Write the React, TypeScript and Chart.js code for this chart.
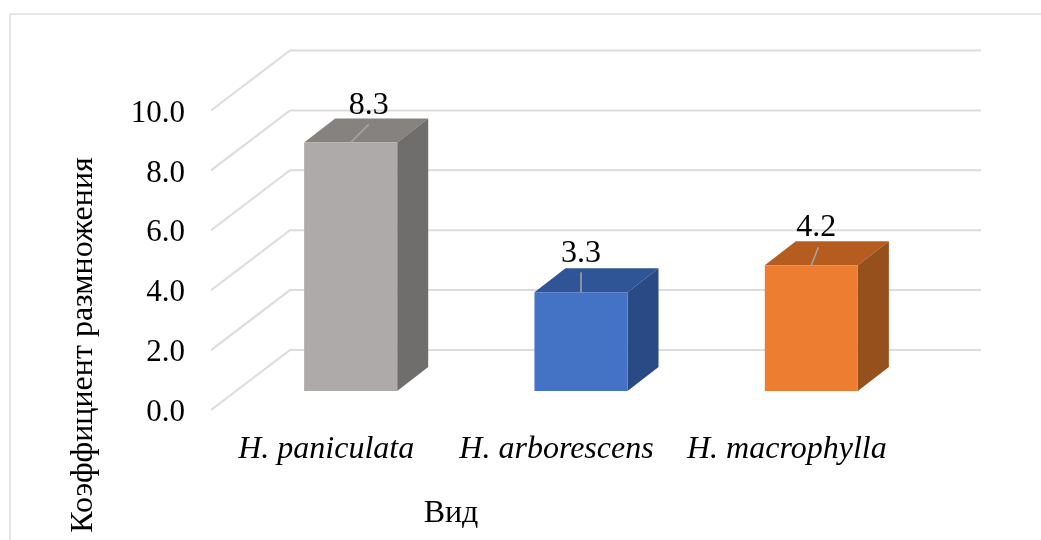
import React, { useEffect, useRef } from "react";
import { Chart, registerables } from "chart.js";

Chart.register(...registerables);

const categories = ["H. paniculata", "H. arborescens", "H. macrophylla"];
const values = [8.3, 3.3, 4.2];
const yTicks = [0, 2, 4, 6, 8, 10];
const yTitle = "Коэффициент размножения";
const xTitle = "Вид";

const frontColors = ["#aeaaaa", "#4472c4", "#ed7d31"];
const topColors = ["#868280", "#2f5597", "#b55d20"];
const sideColors = ["#706d6d", "#2a4a85", "#95501c"];

const FONT = '"Liberation Serif", "Times New Roman", serif';
const GRID_LIFT = 3;
const WALL_DX = 79;
const WALL_DY = 60;
const SHIFT_X = 24.5;
const SHIFT_Y = 22;
const DEPTH_X = 31;
const DEPTH_Y = 24;
const LEADER_DX = [18, 0, 7];
const LEADER_LEN = [18, 20, 18];
const LABEL_DX = [18, 0, 5];
const LABEL_DY = [28, 30, 29.5];

const poly = (ctx: CanvasRenderingContext2D, pts: number[][], fill: string) => {
  ctx.beginPath();
  pts.forEach((p, i) => (i ? ctx.lineTo(p[0], p[1]) : ctx.moveTo(p[0], p[1])));
  ctx.closePath();
  ctx.fillStyle = fill;
  ctx.fill();
};

const box3d = {
  id: "box3d",
  beforeDraw(chart: any) {
    const { ctx, width, height } = chart;
    ctx.save();
    ctx.fillStyle = "#ffffff";
    ctx.fillRect(0, 0, width, height);
    ctx.strokeStyle = "#e6e6e6";
    ctx.lineWidth = 2;
    ctx.beginPath();
    ctx.moveTo(10, height);
    ctx.lineTo(10, 14);
    ctx.lineTo(width, 14);
    ctx.stroke();
    ctx.restore();
  },
  beforeDatasetsDraw(chart: any) {
    const { ctx, chartArea, scales } = chart;
    ctx.save();
    ctx.strokeStyle = "#dcdcdc";
    ctx.lineWidth = 2;
    scales.y.ticks.forEach((t: any) => {
      const y = scales.y.getPixelForValue(t.value) - GRID_LIFT;
      ctx.beginPath();
      ctx.moveTo(chartArea.left, y);
      ctx.lineTo(chartArea.left + WALL_DX, y - WALL_DY);
      ctx.lineTo(chartArea.right + WALL_DX, y - WALL_DY);
      ctx.stroke();
    });
    const meta = chart.getDatasetMeta(0);
    meta.data.forEach((bar: any, i: number) => {
      const l = bar.x - bar.width / 2 + SHIFT_X;
      const r = bar.x + bar.width / 2 + SHIFT_X;
      const t = bar.y - SHIFT_Y;
      const b = bar.base - SHIFT_Y;
      poly(ctx, [[l, t], [r, t], [r + DEPTH_X, t - DEPTH_Y], [l + DEPTH_X, t - DEPTH_Y]], topColors[i]);
      poly(ctx, [[r, t], [r + DEPTH_X, t - DEPTH_Y], [r + DEPTH_X, b - DEPTH_Y], [r, b]], sideColors[i]);
    });
    ctx.restore();
  },
  beforeDatasetDraw(chart: any) {
    chart.ctx.save();
    chart.ctx.translate(SHIFT_X, -SHIFT_Y);
  },
  afterDatasetDraw(chart: any) {
    chart.ctx.restore();
  },
  afterDatasetsDraw(chart: any) {
    const { ctx } = chart;
    const meta = chart.getDatasetMeta(0);
    ctx.save();
    meta.data.forEach((bar: any, i: number) => {
      const x = bar.x + SHIFT_X;
      const t = bar.y - SHIFT_Y;
      ctx.strokeStyle = "#a6a6a6";
      ctx.lineWidth = 1.5;
      ctx.beginPath();
      ctx.moveTo(x, t);
      ctx.lineTo(x + LEADER_DX[i], t - LEADER_LEN[i]);
      ctx.stroke();
      ctx.fillStyle = "#000000";
      ctx.font = `32px ${FONT}`;
      ctx.textAlign = "center";
      ctx.textBaseline = "alphabetic";
      ctx.fillText(values[i].toFixed(1), x + LABEL_DX[i], t - LABEL_DY[i]);
    });
    ctx.fillStyle = "#000000";
    ctx.textAlign = "center";
    ctx.textBaseline = "alphabetic";
    ctx.font = `32px ${FONT}`;
    ctx.fillText(xTitle, 451, 522);
    ctx.translate(92, 345);
    ctx.rotate(-Math.PI / 2);
    ctx.fillText(yTitle, 0, 0);
    ctx.restore();
  },
};

export default function App() {
  const ref = useRef<HTMLCanvasElement>(null);
  useEffect(() => {
    const chart = new Chart(ref.current!, {
      type: "bar",
      data: {
        labels: categories,
        datasets: [
          {
            data: values,
            backgroundColor: frontColors,
            borderWidth: 0,
            barPercentage: 0.404,
            categoryPercentage: 1,
            clip: false,
          } as any,
        ],
      },
      plugins: [box3d as any],
      options: {
        animation: false,
        responsive: false,
        layout: { padding: { top: 113.5, right: 139, left: 0, bottom: 0 } },
        plugins: { legend: { display: false }, tooltip: { enabled: false } },
        scales: {
          x: {
            afterFit: (s: any) => {
              s.height = 127;
            },
            grid: { display: false },
            border: { display: false },
            ticks: {
              color: "#000000",
              padding: 9,
              maxRotation: 0,
              autoSkip: false,
              font: { family: FONT, size: 32, style: "italic" },
            },
          },
          y: {
            min: 0,
            max: 10,
            afterBuildTicks: (s: any) => {
              s.ticks = yTicks.map((value) => ({ value }));
            },
            afterFit: (s: any) => {
              s.width = 211;
            },
            grid: { display: false },
            border: { display: false },
            ticks: {
              color: "#000000",
              padding: 18,
              callback: (v: any) => Number(v).toFixed(1),
              font: { family: FONT, size: 31 },
            },
          },
        },
      },
    });
    return () => chart.destroy();
  }, []);
  return (
    <canvas
      ref={ref}
      width={1041}
      height={540}
      style={{ position: "fixed", left: 0, top: 0, display: "block" }}
    />
  );
}
